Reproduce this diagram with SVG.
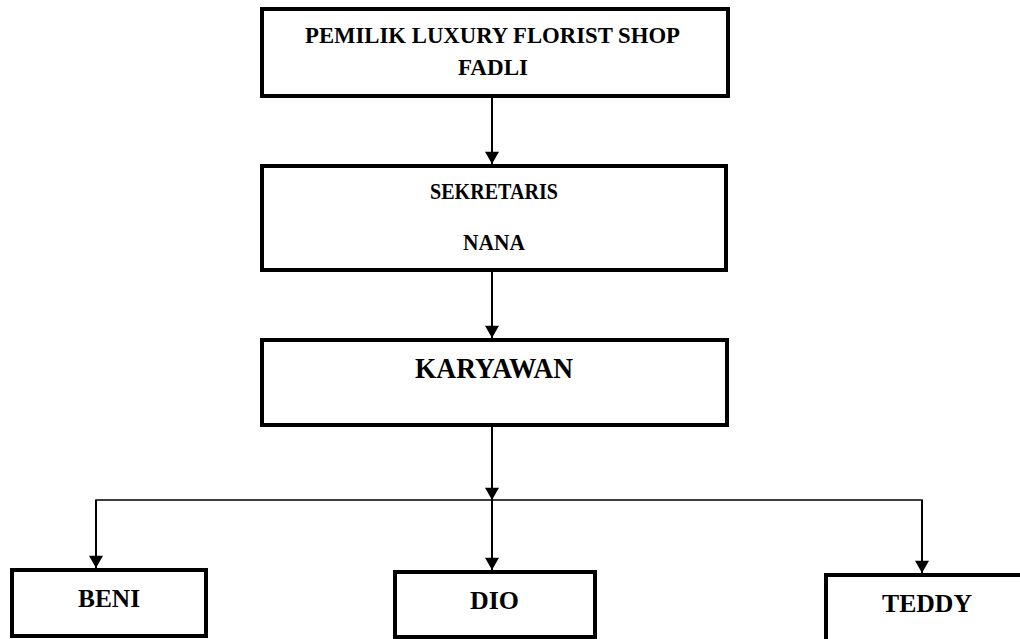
<svg xmlns="http://www.w3.org/2000/svg" width="1020" height="639" viewBox="0 0 1020 639">
<style>
.box{fill:#fff;stroke:#000;stroke-width:4}
.t{font-family:"Liberation Serif","Times New Roman",serif;font-weight:bold;fill:#000;text-anchor:middle}
.c{fill:none;stroke:#000;stroke-width:2}
.h{fill:none;stroke:#000;stroke-width:1.5}
</style>
<defs>
<marker id="arr" markerUnits="userSpaceOnUse" markerWidth="16" markerHeight="14" refX="14" refY="8" orient="auto" viewBox="0 0 14 16">
<path d="M0,0 L14,8 L0,16 Z" fill="#000"/>
</marker>
</defs>
<rect width="1020" height="639" fill="#fff"/>
<g id="connectors">
<path class="c" d="M492,98 V164" marker-end="url(#arr)"/>
<path class="c" d="M492,272 V338" marker-end="url(#arr)"/>
<path class="c" d="M492,427 V500" marker-end="url(#arr)"/>
<path class="h" d="M96,568 V500 H922 V573"/>
<path class="c" d="M96,500 V568" marker-end="url(#arr)"/>
<path class="c" d="M492,500 V570" marker-end="url(#arr)"/>
<path class="c" d="M922,500 V573" marker-end="url(#arr)"/>
</g>
<g id="pemilik">
<rect class="box" x="262" y="9" width="466" height="87"/>
<text class="t" x="492.5" y="43" font-size="22.5" textLength="375" lengthAdjust="spacingAndGlyphs">PEMILIK LUXURY FLORIST SHOP</text>
<text class="t" x="493" y="75" font-size="22.5" textLength="70" lengthAdjust="spacingAndGlyphs">FADLI</text>
</g>
<g id="sekretaris">
<rect class="box" x="262" y="166" width="464" height="104"/>
<text class="t" x="494" y="199" font-size="23.5" textLength="128" lengthAdjust="spacingAndGlyphs">SEKRETARIS</text>
<text class="t" x="494" y="250" font-size="23.5" textLength="62" lengthAdjust="spacingAndGlyphs">NANA</text>
</g>
<g id="karyawan">
<rect class="box" x="262" y="340" width="465" height="85"/>
<text class="t" x="494" y="378" font-size="29" textLength="158" lengthAdjust="spacingAndGlyphs">KARYAWAN</text>
</g>
<g id="beni">
<rect class="box" x="12" y="570" width="194" height="66"/>
<text class="t" x="109" y="607" font-size="26" textLength="62" lengthAdjust="spacingAndGlyphs">BENI</text>
</g>
<g id="dio">
<rect class="box" x="395" y="572" width="200" height="65"/>
<text class="t" x="494.5" y="609" font-size="26" textLength="49" lengthAdjust="spacingAndGlyphs">DIO</text>
</g>
<g id="teddy">
<rect class="box" x="826" y="575" width="200" height="70"/>
<text class="t" x="927" y="612" font-size="26" textLength="90" lengthAdjust="spacingAndGlyphs">TEDDY</text>
</g>
</svg>
